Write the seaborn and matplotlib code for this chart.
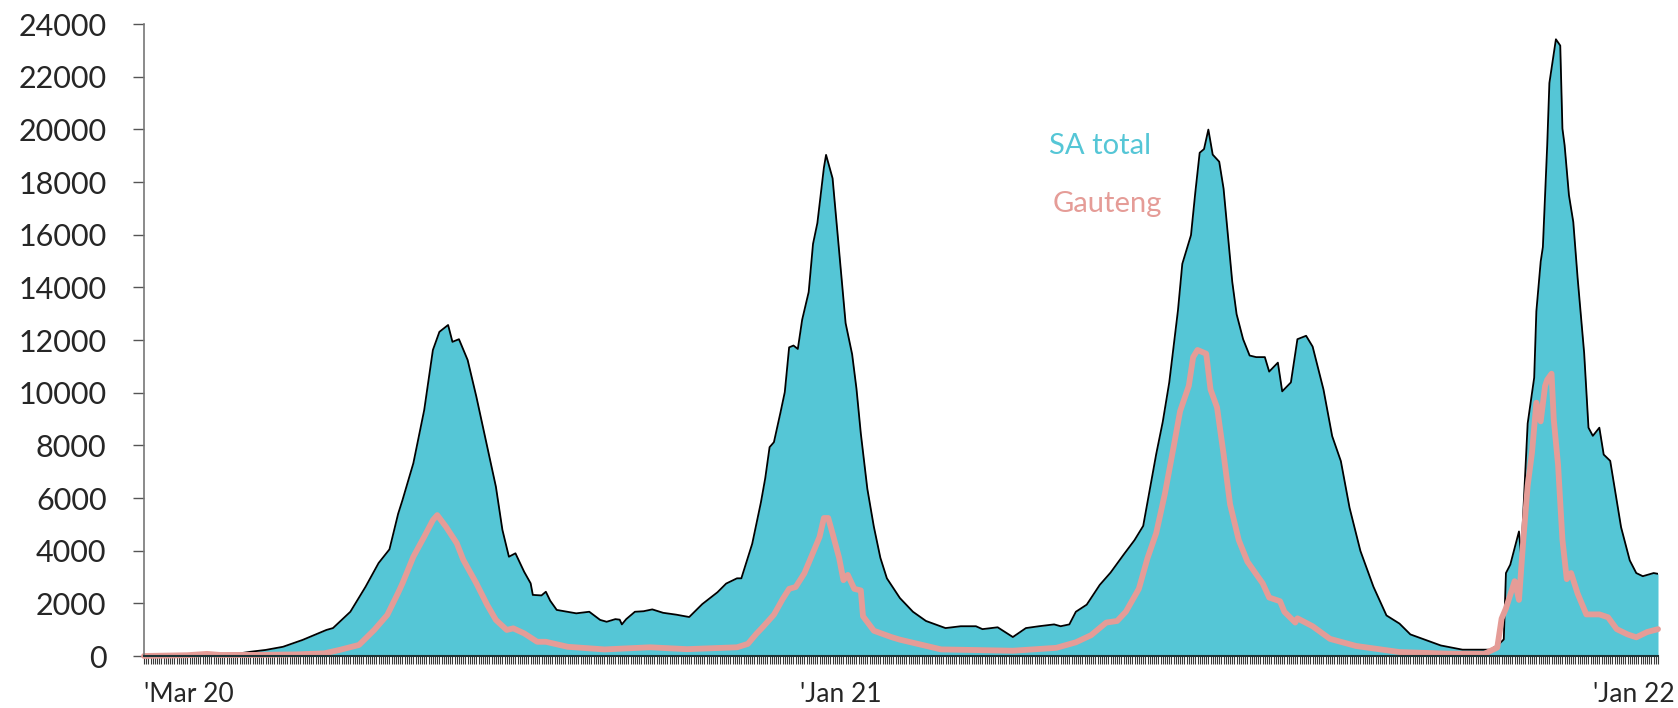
import numpy as np
import pandas as pd
import matplotlib
matplotlib.use("Agg")
import matplotlib.pyplot as plt
import matplotlib.dates as mdates
import seaborn as sns

# ── 数据（从图上读取的 7 日平均新增病例）──────────────────────────────────────
START = pd.Timestamp("2020-03-05")
END = pd.Timestamp("2022-01-31")

# SA total：距首例日期的天数 / 数值
sa_day = [0, 20, 30, 44, 49, 56, 64, 73, 84, 87, 95, 102, 108, 113, 117, 119, 124, 129,
          133, 136, 140, 142, 145, 149, 153, 158, 162, 165, 168, 171, 175, 178, 179, 183,
          185, 187, 190, 199, 205, 210, 213, 217, 219, 220, 222, 226, 230, 234, 239, 245,
          251, 257, 264, 268, 273, 275, 280, 284, 286, 288, 290, 293, 295, 297, 299, 301,
          303, 306, 308, 310, 313, 314, 317, 319, 321, 323, 326, 328, 330, 333, 336, 339,
          342, 348, 354, 360, 369, 376, 383, 386, 393, 400, 406, 412, 419, 422, 426, 429,
          434, 440, 445, 451, 456, 460, 463, 466, 469, 472, 474, 476, 478, 482, 484, 486,
          488, 490, 492, 495, 497, 499, 501, 503, 506, 509, 512, 516, 518, 522, 524, 528,
          531, 535, 538, 543, 547, 551, 555, 560, 566, 572, 578, 583, 592, 597, 607, 620,
          624, 626, 627, 629, 633, 634, 636, 637, 640, 641, 643, 644, 646, 647, 649, 650,
          652, 653, 654, 656, 658, 660, 663, 665, 667, 670, 672, 675, 680, 684, 687, 690,
          695, 697]
sa_val = [0, 30, 60, 100, 160, 230, 350, 610, 990, 1060, 1680, 2630, 3530, 4050, 5400, 5920,
          7320, 9340, 11620, 12310, 12570, 11930, 12030, 11240, 9850, 7950, 6430, 4790, 3770,
          3900, 3200, 2760, 2320, 2300, 2440, 2100, 1750, 1620, 1680, 1370, 1300, 1400, 1380,
          1200, 1400, 1680, 1700, 1770, 1640, 1570, 1480, 1970, 2420, 2750, 2950, 2950, 4260,
          5830, 6750, 7930, 8120, 9240, 10020, 11720, 11790, 11660, 12770, 13820, 15650,
          16440, 18540, 19030, 18140, 16310, 14480, 12640, 11460, 10150, 8450, 6350, 4910,
          3730, 2950, 2200, 1680, 1330, 1060, 1130, 1130, 1020, 1090, 720, 1060, 1130, 1200,
          1130, 1200, 1680, 1950, 2700, 3170, 3850, 4400, 4940, 6310, 7670, 8890, 10390,
          11750, 13120, 14890, 15980, 17610, 19110, 19250, 19990, 19040, 18770, 17750, 15980,
          14210, 12980, 12030, 11410, 11350, 11350, 10800, 11140, 10050, 10390, 12030, 12160,
          11750, 10120, 8350, 7400, 5630, 3990, 2630, 1540, 1230, 820, 550, 400, 240, 240,
          470, 630, 3150, 3470, 4730, 3800, 7100, 8830, 10570, 13090, 14980, 15530, 19400,
          21760, 22870, 23420, 23180, 20030, 19400, 17500, 16480, 14350, 11510, 8670, 8360,
          8670, 7650, 7410, 4890, 3630, 3150, 3030, 3150, 3120]

# Gauteng
gp_day = [0, 20, 29, 35, 50, 70, 83, 90, 99, 106, 112, 117, 119, 124, 129, 133, 135, 139,
          144, 147, 153, 158, 162, 167, 170, 175, 181, 185, 195, 212, 233, 250, 273, 278,
          282, 285, 290, 294, 297, 300, 304, 307, 311, 313, 315, 317, 320, 322, 324, 327,
          330, 331, 336, 344, 348, 367, 400, 420, 429, 436, 443, 448, 452, 458, 462, 466,
          470, 474, 477, 481, 483, 485, 489, 491, 494, 497, 500, 504, 508, 512, 515, 518,
          523, 525, 530, 531, 538, 546, 558, 578, 600, 617, 623, 625, 627, 631, 633, 635,
          637, 639, 641, 643, 645, 646, 648, 649, 651, 653, 655, 657, 660, 664, 670, 674,
          678, 683, 687, 692, 697]
gp_val = [0, 30, 80, 40, 40, 60, 100, 230, 420, 990, 1560, 2400, 2760, 3770, 4530, 5160,
          5350, 4910, 4280, 3650, 2760, 1940, 1370, 990, 1050, 860, 540, 540, 350, 250, 330,
          260, 330, 460, 850, 1110, 1570, 2160, 2550, 2620, 3140, 3730, 4520, 5240, 5240,
          4650, 3730, 2880, 3080, 2550, 2490, 1510, 960, 720, 620, 250, 200, 310, 520, 790,
          1270, 1330, 1680, 2550, 3720, 4670, 6170, 7940, 9300, 10260, 11350, 11620, 11480,
          10120, 9440, 7670, 5760, 4400, 3580, 3110, 2760, 2220, 2080, 1680, 1270, 1430,
          1130, 650, 380, 150, 90, 80, 320, 1420, 1810, 2840, 2130, 4420, 6470, 7730, 9620,
          8910, 10250, 10490, 10720, 8990, 7250, 4420, 2920, 3150, 2370, 1580, 1580, 1470,
          1020, 820, 710, 910, 1020]

tick_dates = ["2020-03-05", "2021-01-01", "2022-01-01"]
tick_labels = ["'Mar 20", "'Jan 21", "'Jan 22"]
y_ticks = list(range(0, 24001, 2000))

SA_COLOR = "#55C6D6"
GP_COLOR = "#E59C97"

sns.set_style("white")
plt.rcParams["font.family"] = ["Lato", "DejaVu Sans"]

sa_x = START + pd.to_timedelta(sa_day, unit="D")
gp_x = START + pd.to_timedelta(gp_day, unit="D")

fig = plt.figure(figsize=(16.78, 7.08), dpi=100)
ax = fig.add_axes([144 / 1678, 52 / 708, (1658 - 144) / 1678, 632 / 708])

ax.fill_between(sa_x, sa_val, 0, color=SA_COLOR, linewidth=0)
sns.lineplot(x=sa_x, y=sa_val, ax=ax, color="black", linewidth=1.3)
sns.lineplot(x=gp_x, y=gp_val, ax=ax, color=GP_COLOR, linewidth=4.2, clip_on=False)

ax.set_xlim(START, END)
ax.set_ylim(0, 24000)
ax.set_yticks(y_ticks)
ax.set_yticklabels([str(v) for v in y_ticks])
ax.set_xticks(pd.to_datetime(tick_dates))
ax.set_xticklabels(tick_labels, ha="left")
ax.xaxis.set_minor_locator(mdates.DayLocator())
ax.set_xlabel("")
ax.set_ylabel("")

ax.tick_params(axis="y", which="both", left=True, length=8, width=1, color="#555555",
               labelsize=22, pad=19)
ax.tick_params(axis="x", which="both", bottom=True)
ax.tick_params(axis="x", which="major", length=6, width=0.8, color="#333333",
               labelsize=19, pad=13)
ax.tick_params(axis="x", which="minor", length=6, width=0.8, color="#3a3a3a")

for side in ["top", "right"]:
    ax.spines[side].set_visible(False)
ax.spines["left"].set_color("#777777")
ax.spines["left"].set_linewidth(1.2)
ax.spines["bottom"].set_color("#1d3436")
ax.spines["bottom"].set_linewidth(1.5)
ax.grid(False)

ax.text(0.598, 0.794, "SA total", transform=ax.transAxes, color=SA_COLOR,
        fontsize=21, va="baseline", ha="left")
ax.text(0.600, 0.7025, "Gauteng", transform=ax.transAxes, color=GP_COLOR,
        fontsize=21, va="baseline", ha="left")

fig.savefig("out.png", dpi=100)
